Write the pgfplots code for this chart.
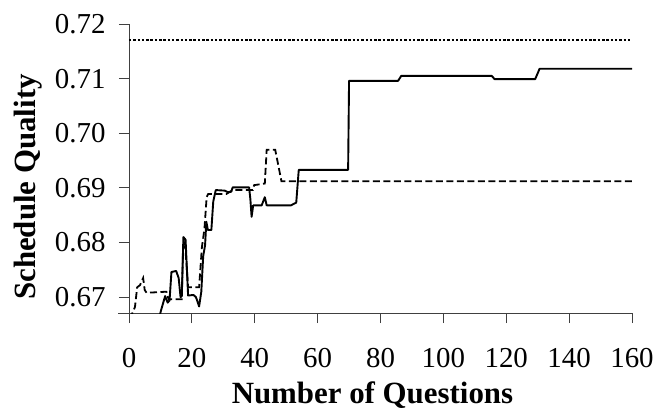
\documentclass[border=0pt]{standalone}
\usepackage{fontspec}
\setmainfont{Liberation Serif}
\usepackage{pgfplots}
\pgfplotsset{compat=1.18}
\begin{document}
\begin{tikzpicture}
\begin{axis}[
  scale only axis,
  width=503bp, height=289bp,
  xmin=0, xmax=160, ymin=0.6671, ymax=0.72,
  axis lines*=left,
  axis line style={-, line width=0.8bp, color=black!75},
  xtick={0,20,...,160},
  ytick={0.67,0.68,0.69,0.70,0.71,0.72},
  tick align=outside,
  major tick length=10bp,
  tick style={line width=0.8bp, color=black!75},
  /pgf/number format/assume math mode=true,
  yticklabel style={/pgf/number format/fixed, /pgf/number format/fixed zerofill, /pgf/number format/precision=2, xshift=-10bp},
  ticklabel style={font=\fontsize{29}{32}\selectfont},
  xticklabel style={yshift=-22bp},
  xlabel={\textbf{Number of Questions}},
  ylabel={\textbf{Schedule Quality}},
  label style={font=\fontsize{31}{33}\selectfont},
  xlabel style={at={(ticklabel cs:0.484)}, yshift=-7bp},
  ylabel style={at={(ticklabel cs:0.436)}, yshift=6bp},
  clip=true,
]
\addplot[black, line width=1.9bp, line join=round] coordinates {
(9.5,0.6660) (10.2,0.6676) (11.5,0.6702) (12.3,0.6690) (12.9,0.6694) (13.5,0.6746) (15.0,0.6748) (15.8,0.6735) (16.4,0.6700) (16.8,0.6702) (17.3,0.6810) (18.0,0.6805) (18.8,0.6703) (20.5,0.6704) (21.3,0.6700) (22.3,0.6683) (23.0,0.6710) (23.6,0.6775) (24.2,0.6795) (24.6,0.6838) (25.1,0.6823) (26.2,0.6823) (26.8,0.6875) (27.6,0.6896) (30.5,0.6895) (31.5,0.6892) (32.5,0.6893) (33.0,0.6901) (38.2,0.6901) (38.6,0.6880) (39.0,0.6847) (39.5,0.6868) (42.2,0.6868) (43.2,0.6883) (43.8,0.6868) (51.5,0.6868) (53.2,0.6873) (54.0,0.6933) (69.7,0.6933) (70.0,0.7096) (85.6,0.7096) (86.6,0.7105) (115.4,0.7105) (116.3,0.7099) (129.2,0.7099) (130.6,0.7118) (160,0.7118)
};
\addplot[black, line width=1.8bp, dash pattern=on 7bp off 3.5bp] coordinates {
(0.3,0.6660) (1.9,0.6682) (2.6,0.6718) (3.5,0.6722) (4.5,0.6735) (5.0,0.6713) (5.6,0.6708) (11.9,0.6710) (12.6,0.6696) (16.8,0.6696) (17.2,0.6790) (17.8,0.6800) (18.8,0.6718) (22.3,0.6718) (23.2,0.6792) (24.0,0.6825) (24.7,0.6883) (25.2,0.6889) (31.0,0.6889) (32.1,0.6893) (33.2,0.6896) (39.4,0.6896) (39.8,0.6905) (43.2,0.6908) (43.8,0.6970) (46.5,0.6970) (48.5,0.6912) (160,0.6912)
};
\addplot[black, line width=1.5bp, dash pattern=on 2.5bp off 1.8bp] coordinates {
(0,0.7171) (160,0.7171)
};
\coordinate (BL) at (rel axis cs:0,0);
\end{axis}
\draw[line width=0.8bp, color=black!75] (BL) -- ++(-11bp,0);
\pgfresetboundingbox
\path (BL) ++(-129bp,-96bp) rectangle ++(657bp,409bp);
\end{tikzpicture}
\end{document}
